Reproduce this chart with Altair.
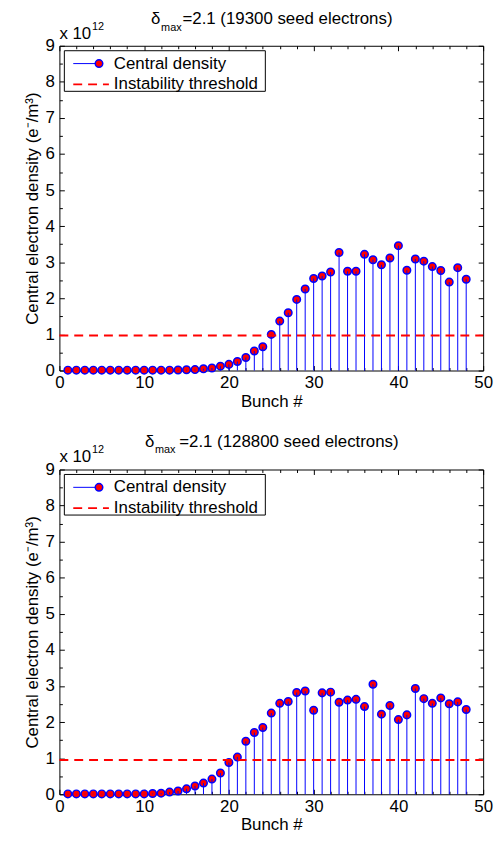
import altair as alt
import pandas as pd

# ---------------- data ----------------
bunches = list(range(1, 49))

density_top = [0.01, 0.01, 0.01, 0.01, 0.01, 0.01, 0.01, 0.01, 0.01, 0.01,
               0.01, 0.01, 0.01, 0.015, 0.02, 0.025, 0.05, 0.07, 0.12, 0.17,
               0.25, 0.36, 0.54, 0.66, 1.00, 1.37, 1.60, 1.97, 2.26, 2.55,
               2.62, 2.73, 3.27, 2.75, 2.75, 3.22, 3.07, 2.93, 3.12, 3.46,
               2.78, 3.09, 3.03, 2.88, 2.77, 2.45, 2.85, 2.53]

density_bottom = [0.01, 0.01, 0.01, 0.01, 0.01, 0.01, 0.01, 0.01, 0.01, 0.01,
                  0.02, 0.03, 0.06, 0.09, 0.15, 0.23, 0.31, 0.42, 0.59, 0.88,
                  1.03, 1.47, 1.71, 1.85, 2.25, 2.52, 2.57, 2.82, 2.86, 2.33,
                  2.81, 2.83, 2.55, 2.61, 2.63, 2.43, 3.05, 2.22, 2.46, 2.07,
                  2.20, 2.93, 2.65, 2.52, 2.67, 2.51, 2.56, 2.35]

threshold_top = 0.97
threshold_bottom = 0.95

title_rest_top = "=2.1 (19300 seed electrons)"
title_rest_bottom = "=2.1 (128800 seed electrons)"

x_major = [0, 10, 20, 30, 40, 50]
x_ticks = list(range(0, 51, 2))
y_major = list(range(0, 10))
y_ticks = [i * 0.5 for i in range(19)]

legend_labels = ["Central density", "Instability threshold"]
x_title = "Bunch #"
y_title = "Central electron density (e\u207b/m\u00b3)"

# ---------------- style ----------------
W, H = 428, 328
FONT = "Liberation Sans"
BLUE = "#0000ff"
RED = "#ff0000"

xs = alt.Scale(domain=[0, 50], nice=False, zero=False)
ys = alt.Scale(domain=[0, 9], nice=False, zero=False)


def inner_axis(orient, offset, values, test):
    return alt.Axis(orient=orient, offset=offset, values=values, labels=False,
                    title=None, domain=False, grid=False, ticks=True,
                    tickColor="black", tickWidth=1,
                    tickSize={"condition": {"test": test, "value": 5}, "value": 3})


def panel(values, threshold, title_rest, tdy, ex_dy, dx_delta, dx_max, dx_rest):
    df = pd.DataFrame({"bunch": bunches, "value": values})
    one = pd.DataFrame({"k": [0]})
    thr = pd.DataFrame({"x0": [0], "x1": [50], "thr": [threshold]})

    points = alt.Chart(df).mark_circle(
        fill=RED, stroke=BLUE, strokeWidth=1.5, size=58, opacity=1
    ).encode(
        x=alt.X("bunch:Q", scale=xs,
                axis=inner_axis("top", -H, x_ticks, "datum.value % 10 === 0")),
        y=alt.Y("value:Q", scale=ys,
                axis=inner_axis("right", -W, y_ticks, "datum.value % 1 === 0")),
    )

    stems = alt.Chart(df).mark_rule(color=BLUE, strokeWidth=1).encode(
        x=alt.X("bunch:Q", scale=xs,
                axis=alt.Axis(orient="bottom", values=x_major, tickSize=0,
                              domain=False, grid=False, labelFlush=False,
                              labelOverlap=False,
                              labelFont=FONT, labelFontSize=17, labelColor="black",
                              labelPadding=4,
                              title=x_title, titleFont=FONT, titleFontSize=17,
                              titleFontWeight="normal", titleColor="black",
                              titlePadding=3)),
        y=alt.Y("value:Q", scale=ys,
                axis=alt.Axis(orient="left", values=y_major, tickSize=0,
                              domain=False, grid=False, labelFlush=False,
                              labelOverlap=False,
                              labelFont=FONT, labelFontSize=17, labelColor="black",
                              labelPadding=5,
                              title=y_title, titleFont=FONT, titleFontSize=17,
                              titleFontWeight="normal", titleColor="black",
                              titlePadding=4)),
        y2=alt.datum(0),
    )

    thr_line = alt.Chart(thr).mark_rule(color=RED, strokeWidth=2, strokeDash=[9, 6]).encode(
        x=alt.X("x0:Q", scale=xs,
                axis=inner_axis("bottom", -H, x_ticks, "datum.value % 10 === 0")),
        x2="x1:Q",
        y=alt.Y("thr:Q", scale=ys,
                axis=inner_axis("left", -W, y_ticks, "datum.value % 1 === 0")),
    )

    box = alt.Chart(one).mark_rect(fill="white", stroke="black", strokeWidth=1).encode(
        x=alt.value(5), x2=alt.value(208), y=alt.value(5), y2=alt.value(46))
    leg_line = alt.Chart(one).mark_rule(color=BLUE, strokeWidth=1).encode(
        x=alt.value(14), x2=alt.value(40), y=alt.value(18))
    leg_pt = alt.Chart(one).mark_circle(
        fill=RED, stroke=BLUE, strokeWidth=1.5, size=58, opacity=1
    ).encode(x=alt.value(40), y=alt.value(18))
    leg_dash = alt.Chart(one).mark_rule(color=RED, strokeWidth=2, strokeDash=[9, 6]).encode(
        x=alt.value(14), x2=alt.value(50), y=alt.value(39))
    txt = dict(font=FONT, fontSize=17, color="black", align="left", baseline="middle")
    leg_t1 = alt.Chart(one).mark_text(text=legend_labels[0], **txt).encode(
        x=alt.value(55), y=alt.value(18))
    leg_t2 = alt.Chart(one).mark_text(text=legend_labels[1], **txt).encode(
        x=alt.value(55), y=alt.value(39))

    t_delta = alt.Chart(one).mark_text(
        text="\u03b4", font=FONT, fontSize=17, color="black", align="right",
        baseline="alphabetic").encode(x=alt.value(dx_delta), y=alt.value(tdy))
    t_max = alt.Chart(one).mark_text(
        text="max", font=FONT, fontSize=11, color="black", align="left",
        baseline="alphabetic").encode(x=alt.value(dx_max), y=alt.value(tdy + 6.5))
    t_rest = alt.Chart(one).mark_text(
        text=title_rest, font=FONT, fontSize=17, color="black", align="left",
        baseline="alphabetic").encode(x=alt.value(dx_rest), y=alt.value(tdy))

    e_x10 = alt.Chart(one).mark_text(
        text="x 10", font=FONT, fontSize=17, color="black", align="left",
        baseline="alphabetic").encode(x=alt.value(0), y=alt.value(ex_dy))
    e_12 = alt.Chart(one).mark_text(
        text="12", font=FONT, fontSize=11, color="black", align="left",
        baseline="alphabetic").encode(x=alt.value(33), y=alt.value(ex_dy - 9))

    return alt.layer(
        points, stems, thr_line, box, leg_line, leg_pt, leg_dash, leg_t1, leg_t2,
        t_delta, t_max, t_rest, e_x10, e_12
    ).resolve_axis(x="independent", y="independent").properties(width=W, height=H)


top = panel(density_top, threshold_top, title_rest_top, -21.5, -6.7, 102, 102.7, 124.3)
bottom = panel(density_bottom, threshold_bottom, title_rest_bottom, -23, -8, 96, 96.5, 121)

chart = alt.vconcat(top, bottom, spacing=100, bounds="flush").properties(
    padding={"left": 23, "top": 6, "right": 5, "bottom": 5},
    background="white",
).configure_view(stroke="black", strokeWidth=1)

chart.save("out.html", embed_options={"renderer": "svg", "actions": False})
